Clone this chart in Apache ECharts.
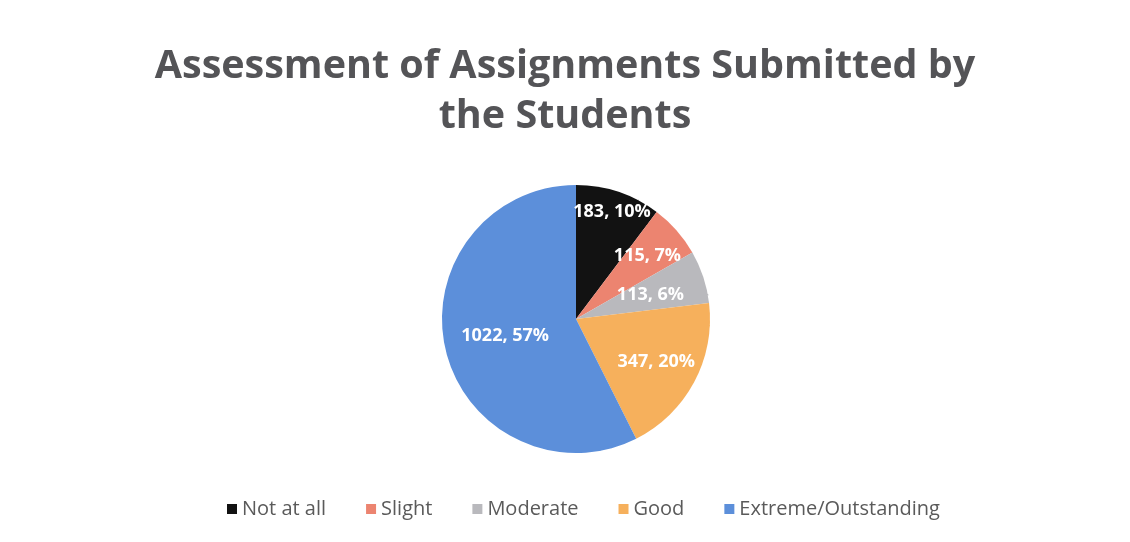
<!DOCTYPE html>
<html>
<head>
<meta charset="utf-8">
<script src="https://cdn.jsdelivr.net/npm/echarts@6/dist/echarts.min.js"></script>
<style>
  html, body { margin: 0; padding: 0; background: #ffffff; }
  #chart { width: 1130px; height: 542px; }
</style>
</head>
<body>
<div id="chart"></div>
<script>
const categories = ['Not at all', 'Slight', 'Moderate', 'Good', 'Extreme/Outstanding'];
const counts = [183, 115, 113, 347, 1022];
const colors = ['#121212', '#ec8470', '#b9b9bd', '#f6b05c', '#5c8fda'];
const labelRadiusFactor = [1.62, 1.36, 1.12, 1.3, 1.04];

const CX = 576, CY = 319, R = 134;
const chart = echarts.init(document.getElementById('chart'));
chart.setOption({
  backgroundColor: '#ffffff',
  title: {
    text: 'Assessment of Assignments Submitted by\nthe Students',
    left: 'center',
    top: 37,
    textStyle: {
      fontFamily: 'Open Sans',
      fontWeight: 'bold',
      fontSize: 39.5,
      lineHeight: 50,
      color: '#545457'
    }
  },
  legend: {
    bottom: 18,
    left: 222,
    icon: 'rect',
    itemWidth: 10,
    itemHeight: 10,
    itemGap: 40,
    textStyle: { fontFamily: 'Open Sans', fontSize: 20, color: '#5a5a5a' },
    data: categories
  },
  series: [{
    type: 'pie',
    center: [CX, CY],
    radius: [0, R],
    startAngle: 90,
    clockwise: true,
    percentPrecision: 0,
    avoidLabelOverlap: false,
    label: {
      show: true,
      position: 'inside',
      formatter: '{c}, {d}%',
      color: '#ffffff',
      fontFamily: 'Open Sans',
      fontWeight: 'bold',
      fontSize: 18
    },
    labelLayout: function (p) {
      const r = p.labelRect;
      const lx = r.x + r.width / 2, ly = r.y + r.height / 2;
      const f = labelRadiusFactor[p.dataIndex] || 1;
      return { x: CX + (lx - CX) * f, y: CY + (ly - CY) * f, align: 'center', verticalAlign: 'middle' };
    },
    itemStyle: { borderWidth: 0 },
    emphasis: { disabled: true },
    data: categories.map((n, i) => ({ name: n, value: counts[i], itemStyle: { color: colors[i] } }))
  }]
});
</script>
</body>
</html>
